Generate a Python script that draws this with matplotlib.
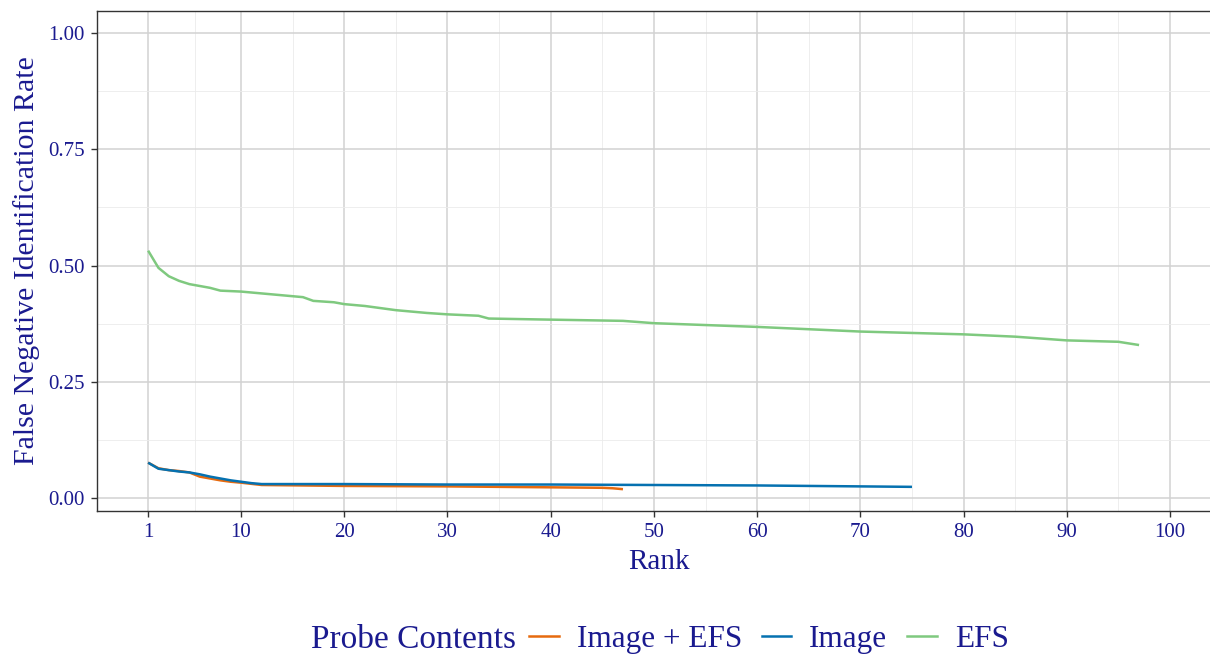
import numpy as np
import matplotlib
matplotlib.use("Agg")
import matplotlib.pyplot as plt
from matplotlib.lines import Line2D

# values
rank_img_efs = [1, 2, 3, 4, 5, 6, 7, 8, 9, 10, 12, 20, 30, 40, 45, 46, 47]
fnir_img_efs = [0.076, 0.064, 0.060, 0.058, 0.055, 0.046, 0.042, 0.038, 0.035, 0.033,
                0.028, 0.026, 0.025, 0.023, 0.022, 0.021, 0.019]

rank_img = [1, 2, 3, 4, 5, 6, 7, 8, 9, 10, 11, 12, 20, 30, 40, 50, 60, 70, 75]
fnir_img = [0.076, 0.063, 0.060, 0.057, 0.055, 0.051, 0.046, 0.042, 0.038, 0.035,
            0.032, 0.030, 0.030, 0.029, 0.029, 0.028, 0.027, 0.025, 0.024]

rank_efs = [1, 2, 3, 4, 5, 6, 7, 8, 10, 16, 17, 19, 20, 22, 25, 28, 30, 33, 34, 39,
            47, 50, 60, 70, 80, 85, 90, 95, 97]
fnir_efs = [0.532, 0.495, 0.477, 0.467, 0.460, 0.456, 0.452, 0.446, 0.444, 0.432,
            0.424, 0.421, 0.417, 0.413, 0.404, 0.398, 0.395, 0.392, 0.386, 0.384,
            0.381, 0.376, 0.368, 0.358, 0.352, 0.347, 0.339, 0.336, 0.329]

series_names = ["Image + EFS", "Image", "EFS"]
series_colors = ["#E66A0F", "#0571B0", "#7FC97F"]

x_breaks = [1, 10, 20, 30, 40, 50, 60, 70, 80, 90, 100]
y_breaks = [0.0, 0.25, 0.5, 0.75, 1.0]

txt = "#1A1A8F"
plt.rcParams["font.family"] = ["Liberation Serif", "DejaVu Serif"]

fig = plt.figure(figsize=(12.1, 6.54), dpi=100)
# panel runs past the right edge of the picture, as in the reference
ax = fig.add_axes([0.0802, 0.2191, 0.929, 0.7645])

data = [(rank_img_efs, fnir_img_efs), (rank_img, fnir_img), (rank_efs, fnir_efs)]
# green first, orange under blue
for i in [2, 0, 1]:
    ax.plot(data[i][0], data[i][1], color=series_colors[i], lw=1.8, solid_capstyle="butt", zorder=3)

ax.set_xlim(-3.95, 104.95)
ax.set_ylim(-0.0273, 1.048)
ax.set_xticks(x_breaks)
ax.set_xticks([5.5, 15, 25, 35, 45, 55, 65, 75, 85, 95], minor=True)
ax.set_yticks(y_breaks)
ax.set_yticks([0.125, 0.375, 0.625, 0.875], minor=True)
ax.set_yticklabels(["%.2f" % v for v in y_breaks])

ax.grid(True, which="major", color="#d2d2d2", lw=1.1, zorder=0)
ax.grid(True, which="minor", color="#ebebeb", lw=0.6, zorder=0)
ax.set_axisbelow(True)
for s in ax.spines.values():
    s.set_color("#333333")
    s.set_linewidth(1.0)
ax.spines["right"].set_visible(False)

ax.tick_params(which="major", length=4, width=1.0, color="#333333", labelcolor=txt,
               labelsize=15, pad=5)
ax.tick_params(which="minor", length=0)

ax.set_xlabel("Rank", fontsize=21, color=txt, labelpad=5)
ax.set_ylabel("False Negative Identification Rate", fontsize=21.5, color=txt, labelpad=6)

# legend along the bottom, title on the left like ggplot
ly = 0.022
fig.text(311 / 1210, ly, "Probe Contents", fontsize=24, color=txt, ha="left", va="center")
handles = [Line2D([], [], color=c, lw=1.8) for c in series_colors]
leg = fig.legend(handles, series_names, loc="center left", bbox_to_anchor=(529 / 1210, ly),
                 ncol=3, frameon=False, fontsize=22.5, handlelength=0.95, handletextpad=0.58,
                 columnspacing=0.62, borderaxespad=0, borderpad=0)
for t in leg.get_texts():
    t.set_color(txt)

fig.savefig("out.png", dpi=100)
